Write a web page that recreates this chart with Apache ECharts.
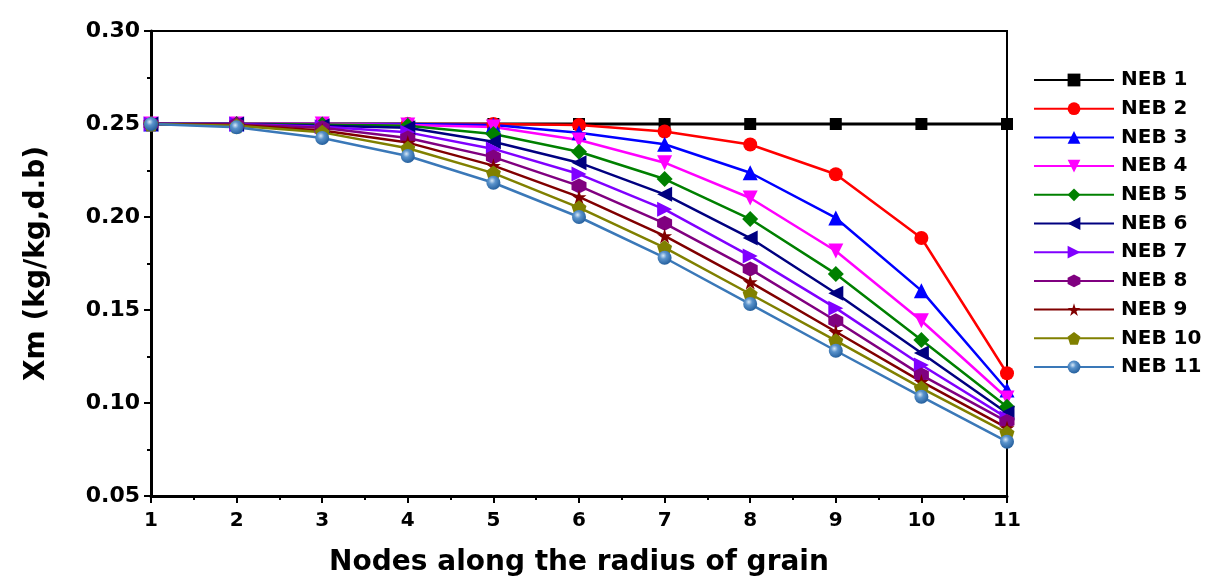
<!DOCTYPE html>
<html>
<head>
<meta charset="utf-8">
<script src="https://cdn.jsdelivr.net/npm/echarts@6/dist/echarts.min.js"></script>
<style>
  html, body { margin: 0; padding: 0; background: #fff; }
  #main { width: 1232px; height: 580px; }
</style>
</head>
<body>
<div id="main"></div>
<script>
  // nodes along the radius
  const nodes = [1, 2, 3, 4, 5, 6, 7, 8, 9, 10, 11]
  const names = ['NEB 1', 'NEB 2', 'NEB 3', 'NEB 4', 'NEB 5', 'NEB 6', 'NEB 7', 'NEB 8', 'NEB 9', 'NEB 10', 'NEB 11']

  const neb1 = [0.25, 0.25, 0.25, 0.25, 0.25, 0.25, 0.25, 0.25, 0.25, 0.25, 0.25]
  const neb2 = [0.25, 0.25, 0.25, 0.25, 0.25, 0.2495, 0.246, 0.239, 0.223, 0.1887, 0.116]
  const neb3 = [0.25, 0.25, 0.25, 0.25, 0.2495, 0.2453, 0.2391, 0.2238, 0.1995, 0.1604, 0.107]
  const neb4 = [0.25, 0.25, 0.25, 0.2495, 0.2484, 0.2414, 0.2292, 0.2102, 0.1817, 0.1442, 0.1027]
  const neb5 = [0.25, 0.25, 0.2497, 0.249, 0.2446, 0.2351, 0.2204, 0.1989, 0.1694, 0.1339, 0.098]
  const neb6 = [0.25, 0.25, 0.249, 0.248, 0.2405, 0.2292, 0.2122, 0.1887, 0.159, 0.1269, 0.0946]
  const neb7 = [0.25, 0.25, 0.2485, 0.2455, 0.2366, 0.2231, 0.2041, 0.179, 0.151, 0.1204, 0.092]
  const neb8 = [0.25, 0.2497, 0.248, 0.2425, 0.2322, 0.2167, 0.1966, 0.172, 0.1442, 0.115, 0.09]
  const neb9 = [0.25, 0.2495, 0.2465, 0.24, 0.2276, 0.2108, 0.1898, 0.165, 0.1383, 0.1115, 0.0866]
  const neb10 = [0.25, 0.249, 0.2455, 0.237, 0.2236, 0.205, 0.1835, 0.1586, 0.1335, 0.108, 0.0839]
  const neb11 = [0.25, 0.2482, 0.2425, 0.2328, 0.2184, 0.2, 0.1781, 0.1532, 0.1281, 0.1034, 0.0792]

  const allValues = [neb1, neb2, neb3, neb4, neb5, neb6, neb7, neb8, neb9, neb10, neb11]

  const colors = ['#000000', '#ff0000', '#0000ff', '#ff00ff', '#008000', '#000080',
    '#8000ff', '#800080', '#800000', '#808000', '#3a78b8']

  const hexagon = 'path://M50,0 L93,25 L93,75 L50,100 L7,75 L7,25 Z'
  const star = 'path://M50,0 L61,35 L98,35 L68,57 L79,91 L50,70 L21,91 L32,57 L2,35 L39,35 Z'
  const pentagon = 'path://M50,0 L98,35 L79,91 L21,91 L2,35 Z'

  const symbols = [
    { symbol: 'rect', rotate: 0, size: 12 },
    { symbol: 'circle', rotate: 0, size: 14 },
    { symbol: 'triangle', rotate: 0, size: 15 },
    { symbol: 'triangle', rotate: 180, size: 15 },
    { symbol: 'diamond', rotate: 0, size: 16 },
    { symbol: 'triangle', rotate: 90, size: 15 },
    { symbol: 'triangle', rotate: -90, size: 15 },
    { symbol: hexagon, rotate: 0, size: 15 },
    { symbol: star, rotate: 0, size: 15 },
    { symbol: pentagon, rotate: 0, size: 15 },
    { symbol: 'circle', rotate: 0, size: 14 }
  ]

  const font = '"DejaVu Sans", Arial, sans-serif'

  const series = names.map(function(name, i) {
    let fill = colors[i]
    if (i === 10) {
      fill = {
        type: 'radial', x: 0.4, y: 0.35, r: 0.7,
        colorStops: [
          { offset: 0, color: '#d8e8f6' },
          { offset: 0.35, color: '#5a93cc' },
          { offset: 1, color: '#1f5a98' }
        ]
      }
    }
    return {
      name: name,
      type: 'line',
      data: nodes.map(function(n, j) { return [n, allValues[i][j]] }),
      symbol: symbols[i].symbol,
      symbolRotate: symbols[i].rotate,
      symbolSize: symbols[i].size,
      showAllSymbol: true,
      lineStyle: { color: colors[i], width: i === 0 ? 3 : 2.5 },
      itemStyle: { color: fill, borderWidth: 0 },
      emphasis: { disabled: true },
      animation: false
    }
  })

  const chart = echarts.init(document.getElementById('main'))
  chart.setOption({
    backgroundColor: '#ffffff',
    color: colors,
    grid: {
      left: 151,
      right: 225,
      top: 31,
      bottom: 84,
      outerBoundsMode: 'none',
      show: true,
      borderColor: '#000',
      borderWidth: 2,
      backgroundColor: 'transparent'
    },
    legend: {
      orient: 'vertical',
      left: 1028,
      top: 65,
      itemWidth: 80,
      itemHeight: 16,
      itemGap: 8.7,
      data: names,
      textStyle: {
        fontFamily: font,
        fontWeight: 'bold',
        fontSize: 20,
        lineHeight: 20,
        color: '#000',
        padding: [0, 0, 0, 2]
      }
    },
    xAxis: {
      type: 'value',
      min: 1,
      max: 11,
      interval: 1,
      name: 'Nodes along the radius of grain',
      nameLocation: 'middle',
      nameGap: 53,
      nameTextStyle: {
        fontFamily: font,
        fontWeight: 'bold',
        fontSize: 28,
        color: '#000'
      },
      axisLine: { show: true, onZero: false, lineStyle: { color: '#000', width: 3 } },
      axisTick: { show: true, inside: false, length: 7, lineStyle: { color: '#000', width: 2 } },
      minorTick: { show: true, splitNumber: 2, length: 4, lineStyle: { color: '#000', width: 2 } },
      axisLabel: {
        margin: 15,
        fontFamily: font,
        fontWeight: 'bold',
        fontSize: 20,
        color: '#000'
      },
      splitLine: { show: false }
    },
    yAxis: {
      type: 'value',
      min: 0.05,
      max: 0.3,
      interval: 0.05,
      name: 'Xm (kg/kg,d.b)',
      nameLocation: 'middle',
      nameGap: 100,
      nameTextStyle: {
        fontFamily: font,
        fontWeight: 'bold',
        fontSize: 28,
        color: '#000'
      },
      axisLine: { show: true, onZero: false, lineStyle: { color: '#000', width: 3 } },
      axisTick: { show: true, inside: false, length: 7, lineStyle: { color: '#000', width: 2 } },
      minorTick: { show: true, splitNumber: 2, length: 4, lineStyle: { color: '#000', width: 2 } },
      axisLabel: {
        margin: 11,
        fontFamily: font,
        fontWeight: 'bold',
        fontSize: 22,
        color: '#000',
        formatter: function(v) { return v.toFixed(2) }
      },
      splitLine: { show: false }
    },
    series: series
  })
</script>
</body>
</html>
